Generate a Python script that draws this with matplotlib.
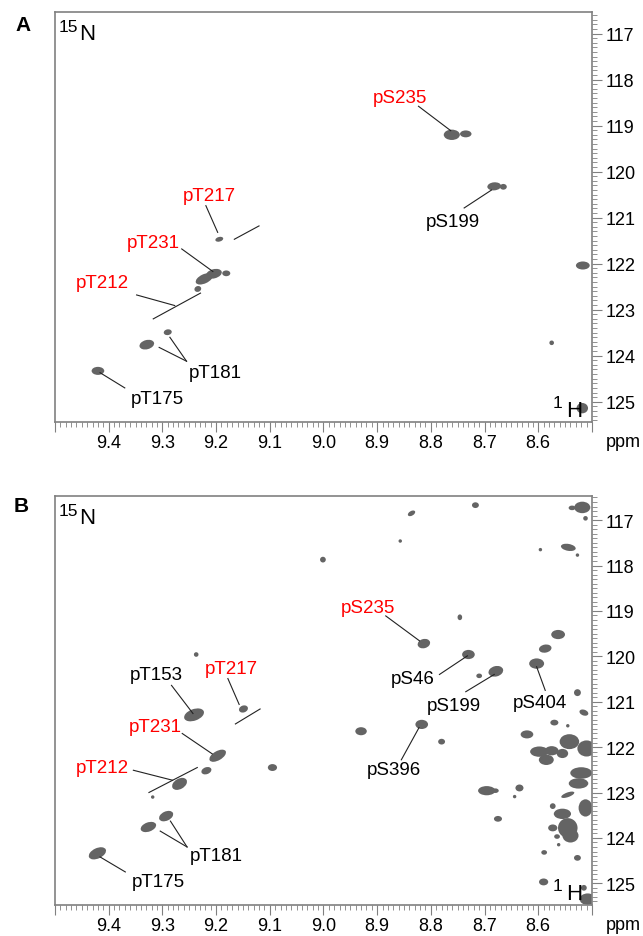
import matplotlib
matplotlib.use('Agg')
import matplotlib.pyplot as plt
from matplotlib.patches import Ellipse
from matplotlib import transforms
from matplotlib.ticker import MultipleLocator, FuncFormatter

plt.rcParams['font.family'] = ['Liberation Sans', 'DejaVu Sans']

# ---- panel A peaks: 1H shift, 15N shift, contour width/height (px), tilt (deg)
a_h = [8.761, 8.735, 8.682, 8.665, 8.517, 8.575, 8.518, 9.194, 9.222, 9.204,
       9.181, 9.234, 9.290, 9.329, 9.420]
a_n = [119.20, 119.18, 120.32, 120.33, 122.04, 123.72, 125.14, 121.47, 122.33, 122.22,
       122.21, 122.55, 123.49, 123.76, 124.33]
a_w = [14, 10, 12, 6, 12, 4, 10, 7, 16, 14, 7, 6, 7, 13, 11]
a_ht = [9, 6, 7, 5, 7, 4, 9, 4, 8, 8, 5, 5, 5, 8, 7]
a_ang = [0, 0, 5, 0, 0, 0, 0, 15, 25, 15, 0, 20, 10, 15, 0]

# ---- panel B peaks
b_h = [8.717, 8.836, 8.518, 8.537, 8.512, 8.857, 9.001, 8.596, 8.544, 8.527,
       8.746, 8.813, 8.563, 8.587, 8.730, 8.603, 8.679, 8.710, 8.527, 8.515,
       8.570, 8.545, 8.621, 8.542, 8.598, 8.575, 8.510, 8.585, 8.555, 8.520,
       8.525, 8.545, 8.512, 8.555, 8.545, 8.540, 8.573, 8.565, 8.562, 8.589,
       8.527, 8.590, 8.508, 8.515, 8.696, 8.680, 8.635, 8.644, 8.675, 8.573,
       8.780, 8.817, 8.930, 9.095, 9.237, 9.241, 9.149, 9.197, 9.218, 9.268,
       9.318, 9.293, 9.326, 9.421]
b_n = [116.67, 116.85, 116.72, 116.73, 116.96, 117.46, 117.87, 117.65, 117.60, 117.77,
       119.14, 119.72, 119.52, 119.83, 119.96, 120.16, 120.33, 120.43, 120.80, 121.24,
       121.46, 121.53, 121.72, 121.88, 122.10, 122.08, 122.03, 122.28, 122.14, 122.57,
       122.80, 123.05, 123.34, 123.47, 123.78, 123.95, 123.78, 123.97, 124.15, 124.32,
       124.44, 124.97, 125.35, 125.10, 122.96, 122.96, 122.90, 123.09, 123.58, 123.30,
       121.88, 121.50, 121.65, 122.45, 119.96, 121.29, 121.16, 122.19, 122.52, 122.81,
       123.10, 123.52, 123.76, 124.34]
b_w = [6, 7, 14, 6, 4, 3, 5, 3, 13, 3,
       4, 11, 12, 11, 11, 13, 13, 5, 6, 8,
       7, 3, 11, 17, 16, 12, 16, 13, 10, 19,
       17, 12, 12, 15, 17, 14, 8, 5, 3, 5,
       6, 8, 14, 5, 15, 6, 7, 3, 7, 5,
       6, 11, 10, 8, 4, 18, 8, 16, 9, 14,
       3, 13, 14, 16]
b_ht = [5, 4, 10, 4, 4, 3, 5, 3, 6, 3,
        5, 8, 8, 7, 8, 9, 9, 4, 6, 5,
        5, 3, 7, 13, 9, 8, 14, 9, 8, 10,
        9, 4, 15, 9, 17, 12, 6, 4, 3, 4,
        5, 6, 10, 5, 8, 4, 6, 3, 5, 5,
        5, 8, 7, 6, 4, 10, 6, 8, 6, 9,
        3, 8, 8, 9]
b_ang = [0, 30, 0, 0, 0, 0, 0, 0, -10, 0,
         0, 15, 0, 10, 0, 0, 15, 0, 0, -20,
         0, 0, 0, 0, 0, 0, 0, 0, 0, 0,
         0, 20, 0, 0, 0, 0, 0, 0, 0, 0,
         0, 0, 0, 0, 0, 0, 0, 0, 0, 0,
         0, 0, 0, 0, 0, 20, 20, 30, 20, 30,
         0, 25, 20, 25]

# ---- assignments: text, label position (1H, 15N)
a_labels = [('pS235', 8.858, 118.40), ('pS199', 8.759, 121.08), ('pT217', 9.213, 120.51),
            ('pT231', 9.316, 121.54), ('pT212', 9.412, 122.41), ('pT181', 9.202, 124.37),
            ('pT175', 9.309, 124.93)]
b_labels = [('pS235', 8.918, 118.92), ('pS46', 8.834, 120.49), ('pS404', 8.596, 121.02),
            ('pS199', 8.757, 121.08), ('pS396', 8.868, 122.50), ('pT153', 9.312, 120.40),
            ('pT217', 9.172, 120.26), ('pT231', 9.313, 121.55), ('pT212', 9.412, 122.45),
            ('pT181', 9.199, 124.39), ('pT175', 9.308, 124.97)]
red_labels = ['pS235', 'pT217', 'pT231', 'pT212']

# leader lines
a_lines = [((8.823, 118.58), (8.763, 119.11)), ((8.738, 120.79), (8.687, 120.40)),
           ((9.219, 120.74), (9.197, 121.32)), ((9.166, 121.47), (9.120, 121.18)),
           ((9.264, 121.68), (9.206, 122.17)), ((9.348, 122.68), (9.277, 122.91)),
           ((9.317, 123.20), (9.229, 122.64)), ((9.255, 124.12), (9.306, 123.82)),
           ((9.255, 124.12), (9.286, 123.60)), ((9.370, 124.70), (9.416, 124.37))]
b_lines = [((8.884, 119.11), (8.821, 119.66)), ((8.784, 120.40), (8.732, 119.99)),
           ((8.587, 120.75), (8.603, 120.23)), ((8.735, 120.78), (8.682, 120.40)),
           ((8.855, 122.28), (8.822, 121.57)), ((9.283, 120.64), (9.243, 121.26)),
           ((9.178, 120.49), (9.157, 121.06)), ((9.164, 121.49), (9.118, 121.16)),
           ((9.263, 121.70), (9.207, 122.15)), ((9.354, 122.51), (9.281, 122.73)),
           ((9.325, 123.00), (9.235, 122.45)), ((9.254, 124.20), (9.304, 123.85)),
           ((9.254, 124.20), (9.285, 123.63)), ((9.369, 124.75), (9.416, 124.42))]

PEAK = '#646464'
FRAME = '#808080'
PEAK_SCALE = 1.15

fig = plt.figure(figsize=(6.43, 9.37), dpi=100)
ax_a = fig.add_axes([0.0855, 0.5486, 0.8351, 0.4376])
ax_b = fig.add_axes([0.0855, 0.0330, 0.8351, 0.4365])


def setup(ax, ylim):
    ax.set_xlim(9.5, 8.5)
    ax.set_ylim(*ylim)
    ax.yaxis.tick_right()
    ax.xaxis.tick_bottom()
    ax.xaxis.set_major_locator(MultipleLocator(0.1))
    ax.xaxis.set_minor_locator(MultipleLocator(0.01))
    ax.xaxis.set_major_formatter(FuncFormatter(lambda v, p: f'{v:.1f}' if 8.55 < v < 9.45 else ''))
    ax.yaxis.set_major_locator(MultipleLocator(1))
    ax.yaxis.set_minor_locator(MultipleLocator(0.1))
    ax.tick_params(which='major', direction='out', length=7, width=0.8, color=FRAME,
                   labelsize=13, pad=3)
    ax.tick_params(axis='x', which='major', pad=1.5)
    ax.tick_params(which='minor', direction='out', length=3.5, width=0.6, color=FRAME)
    for s in ax.spines.values():
        s.set_color(FRAME)
        s.set_linewidth(1.2)
    ax.text(1.058, -0.047, 'ppm', transform=ax.transAxes, ha='center', va='center', fontsize=13)
    ax.text(0.0075, 0.954, '15', transform=ax.transAxes, ha='left', va='baseline', fontsize=12.5)
    ax.text(0.045, 0.934, 'N', transform=ax.transAxes, ha='left', va='baseline', fontsize=16)
    ax.text(0.927, 0.037, '1', transform=ax.transAxes, ha='left', va='baseline', fontsize=12.5)
    ax.text(0.951, 0.015, 'H', transform=ax.transAxes, ha='left', va='baseline', fontsize=16)


def draw_peaks(ax, h, n, w, ht, ang):
    for x, y, a, b, t in zip(h, n, w, ht, ang):
        tr = fig.dpi_scale_trans + transforms.ScaledTranslation(x, y, ax.transData)
        ax.add_patch(Ellipse((0, 0), a * PEAK_SCALE / 100, b * PEAK_SCALE / 100, angle=t,
                             transform=tr, facecolor=PEAK, edgecolor='none'))


def draw_labels(ax, labels, lines):
    for (x1, y1), (x2, y2) in lines:
        ax.plot([x1, x2], [y1, y2], color='#222222', lw=0.8)
    for txt, x, y in labels:
        ax.text(x, y, txt, ha='center', va='center', fontsize=13.5,
                color='red' if txt in red_labels else 'black')


setup(ax_a, (125.44, 116.53))
setup(ax_b, (125.48, 116.47))
draw_peaks(ax_a, a_h, a_n, a_w, a_ht, a_ang)
draw_peaks(ax_b, b_h, b_n, b_w, b_ht, b_ang)
draw_labels(ax_a, a_labels, a_lines)
draw_labels(ax_b, b_labels, b_lines)

fig.text(15 / 643, 1 - 16 / 937, 'A', fontsize=15, fontweight='bold', va='top', ha='left')
fig.text(14 / 643, 1 - 497 / 937, 'B', fontsize=15, fontweight='bold', va='top', ha='left')

fig.savefig('out.png', dpi=100)
